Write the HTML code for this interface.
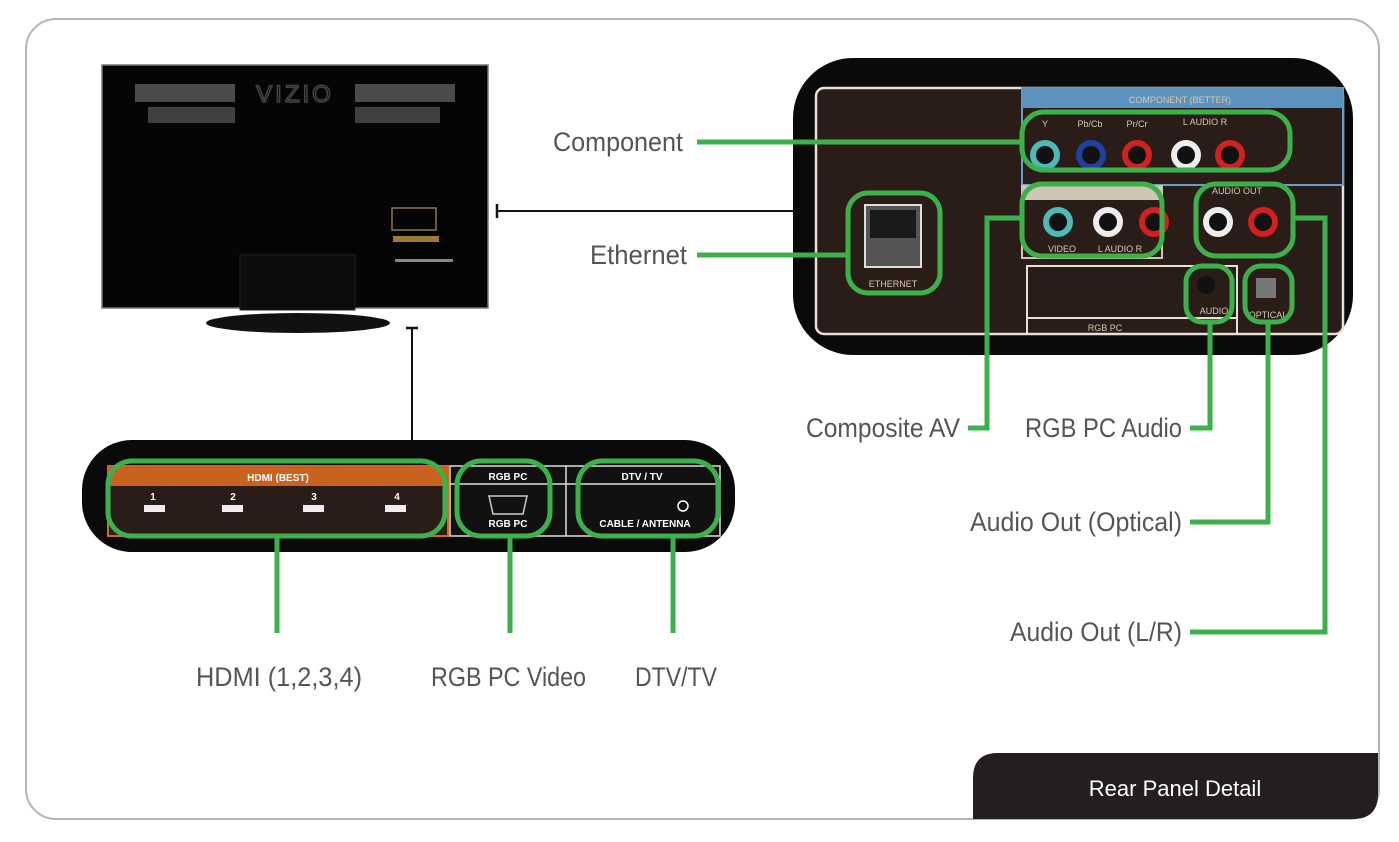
<!DOCTYPE html>
<html><head><meta charset="utf-8"><style>
html,body{margin:0;padding:0;background:#fff;}
svg{display:block}
.lbl{font-family:"Liberation Sans Narrow","Liberation Sans",sans-serif;font-size:27px;fill:#555;}
.sm{font-family:"Liberation Sans",sans-serif;font-weight:bold;fill:#fff;}
.tan{font-family:"Liberation Sans",sans-serif;fill:#d8c9b0;}
</style></head><body>
<svg width="1399" height="842" viewBox="0 0 1399 842" xmlns="http://www.w3.org/2000/svg">
<rect x="26" y="19" width="1353" height="800" rx="30" fill="#fff" stroke="#b5b5b5" stroke-width="2"/>

<!-- TV -->
<ellipse cx="298" cy="323" rx="92" ry="10" fill="#111"/>
<rect x="102" y="65" width="386" height="243" fill="#050505"/>
<rect x="102" y="65" width="386" height="243" fill="none" stroke="#777" stroke-width="1.5"/>
<rect x="135" y="84" width="100" height="18" fill="#4a4a4a"/>
<rect x="148" y="107" width="87" height="16" fill="#404040"/>
<rect x="355" y="84" width="100" height="18" fill="#4a4a4a"/>
<rect x="355" y="107" width="85" height="16" fill="#404040"/>
<text x="295" y="102" text-anchor="middle" font-family="Liberation Sans" font-size="24" fill="none" stroke="#444" stroke-width="1.5" letter-spacing="3">VIZIO</text>
<rect x="392" y="208" width="44" height="22" fill="none" stroke="#8a7a50" stroke-width="1.5"/>
<rect x="393" y="236" width="46" height="6" fill="#a07a30"/>
<rect x="395" y="259" width="58" height="3" fill="#888"/>
<rect x="240" y="255" width="115" height="55" fill="#0c0c0c" stroke="#222"/>

<!-- connectors black -->
<line x1="497" y1="211" x2="795" y2="211" stroke="#111" stroke-width="2"/>
<line x1="497" y1="204" x2="497" y2="218" stroke="#111" stroke-width="2.5"/>
<line x1="412" y1="328" x2="412" y2="442" stroke="#111" stroke-width="2"/>
<line x1="406" y1="328" x2="418" y2="328" stroke="#111" stroke-width="2.5"/>

<!-- Right panel -->
<rect x="793" y="58" width="560" height="297" rx="60" fill="#0a0a0a"/>
<rect x="816" y="88" width="527" height="246" rx="8" fill="#2a1c16" stroke="#e8e0d8" stroke-width="2.5"/>
<rect x="1022" y="88" width="321" height="97" fill="#2a1c16" stroke="#6a9ec8" stroke-width="2"/>
<rect x="1022" y="88" width="321" height="20" fill="#5b92bf"/>
<text x="1180" y="103" text-anchor="middle" class="tan" font-size="9" fill="#dfe8f0">COMPONENT (BETTER)</text>
<text x="1045" y="127" text-anchor="middle" class="tan" font-size="9">Y</text>
<text x="1090" y="127" text-anchor="middle" class="tan" font-size="9">Pb/Cb</text>
<text x="1137" y="127" text-anchor="middle" class="tan" font-size="9">Pr/Cr</text>
<text x="1205" y="125" text-anchor="middle" class="tan" font-size="9">L AUDIO  R</text>
<rect x="1022" y="186" width="140" height="72" fill="#2a1c16" stroke="#cfc5b5" stroke-width="2"/>
<rect x="1022" y="186" width="140" height="14" fill="#cfc5b5"/>
<text x="1062" y="252" class="tan" font-size="9" text-anchor="middle">VIDEO</text>
<text x="1120" y="252" class="tan" font-size="9" text-anchor="middle">L  AUDIO  R</text>
<text x="1237" y="194" class="tan" font-size="9" text-anchor="middle">AUDIO OUT</text>
<rect x="1027" y="266" width="210" height="68" fill="none" stroke="#e8e0d8" stroke-width="2"/>
<line x1="1027" y1="318" x2="1237" y2="318" stroke="#e8e0d8" stroke-width="2"/>
<text x="1105" y="331" class="tan" font-size="9" text-anchor="middle">RGB PC</text>
<text x="1214" y="314" class="tan" font-size="9" text-anchor="middle">AUDIO</text>
<text x="1268" y="318" class="tan" font-size="9" text-anchor="middle">OPTICAL</text>
<circle cx="1206" cy="285" r="9" fill="#111"/>
<rect x="1256" y="278" width="20" height="20" fill="#777"/>
<!-- ethernet -->
<rect x="865" y="205" width="56" height="62" fill="#555" stroke="#ddd" stroke-width="2"/>
<rect x="870" y="210" width="46" height="28" fill="#1a1a1a"/>
<text x="893" y="287" class="tan" font-size="9" text-anchor="middle">ETHERNET</text>
<!-- jacks -->
<g stroke-width="6">
<circle cx="1045" cy="155" r="12" fill="#111" stroke="#4fb8b8"/>
<circle cx="1091" cy="155" r="12" fill="#111" stroke="#2040a0"/>
<circle cx="1137" cy="155" r="12" fill="#111" stroke="#d02020"/>
<circle cx="1186" cy="155" r="12" fill="#111" stroke="#eee"/>
<circle cx="1230" cy="155" r="12" fill="#111" stroke="#d02020"/>
<circle cx="1058" cy="222" r="12" fill="#111" stroke="#4fb8b8"/>
<circle cx="1108" cy="222" r="12" fill="#111" stroke="#eee"/>
<circle cx="1154" cy="222" r="12" fill="#111" stroke="#d02020"/>
<circle cx="1218" cy="222" r="12" fill="#111" stroke="#eee"/>
<circle cx="1263" cy="222" r="12" fill="#111" stroke="#d02020"/>
</g>

<!-- Bottom panel -->
<rect x="82" y="440" width="653" height="112" rx="50" fill="#0a0a0a"/>
<rect x="108" y="466" width="340" height="70" fill="#2a1c16" stroke="#d06a20" stroke-width="2"/>
<rect x="108" y="466" width="340" height="20" fill="#c8621e"/>
<text x="278" y="481" class="sm" font-size="10" text-anchor="middle">HDMI (BEST)</text>
<rect x="450" y="466" width="270" height="70" fill="#111" stroke="#ddd" stroke-width="1.5"/>
<line x1="566" y1="466" x2="566" y2="536" stroke="#ddd" stroke-width="1.5"/>
<line x1="450" y1="484" x2="720" y2="484" stroke="#ddd" stroke-width="1.5"/>
<text x="508" y="480" class="sm" font-size="10" text-anchor="middle">RGB PC</text>
<text x="508" y="527" class="sm" font-size="10" text-anchor="middle">RGB PC</text>
<text x="642" y="480" class="sm" font-size="10" text-anchor="middle">DTV / TV</text>
<text x="645" y="527" class="sm" font-size="10" text-anchor="middle">CABLE / ANTENNA</text>
<circle cx="683" cy="506" r="5" fill="none" stroke="#fff" stroke-width="1.5"/>
<path d="M489 496 h38 l-4 18 h-30 z" fill="none" stroke="#ccc" stroke-width="1.5"/>
<g font-family="Liberation Sans" font-weight="bold" font-size="10" fill="#fff" text-anchor="middle">
<text x="153" y="500">1</text><text x="233" y="500">2</text><text x="314" y="500">3</text><text x="397" y="500">4</text></g>
<g fill="#eee"><rect x="144" y="505" width="21" height="7"/><rect x="222" y="505" width="21" height="7"/><rect x="303" y="505" width="21" height="7"/><rect x="385" y="505" width="21" height="7"/></g>

<!-- green boxes -->
<g fill="none" stroke="#3cb04a" stroke-width="5">
<rect x="1022" y="112" width="268" height="58" rx="22"/>
<rect x="848" y="193" width="92" height="100" rx="20"/>
<rect x="1022" y="184" width="140" height="72" rx="20"/>
<rect x="1196" y="184" width="97" height="72" rx="20"/>
<rect x="1186" y="266" width="46" height="56" rx="16"/>
<rect x="1245" y="266" width="47" height="56" rx="16"/>
<rect x="108" y="461" width="337" height="75" rx="24"/>
<rect x="457" y="461" width="93" height="75" rx="24"/>
<rect x="578" y="461" width="140" height="75" rx="24"/>
<polyline points="697,142 1022,142"/>
<polyline points="697,255 848,255"/>
<polyline points="968,428 987,428 987,218 1022,218"/>
<polyline points="1190,428 1210,428 1210,322"/>
<polyline points="1190,522 1268,522 1268,322"/>
<polyline points="1190,632 1325,632 1325,218 1293,218"/>
<line x1="277" y1="536" x2="277" y2="633"/>
<line x1="510" y1="536" x2="510" y2="633"/>
<line x1="673" y1="536" x2="673" y2="633"/>
</g>

<!-- labels -->
<text class="lbl" x="553" y="151" textLength="130" lengthAdjust="spacingAndGlyphs">Component</text>
<text class="lbl" x="590" y="264" textLength="97" lengthAdjust="spacingAndGlyphs">Ethernet</text>
<text class="lbl" x="806" y="437" textLength="154" lengthAdjust="spacingAndGlyphs">Composite AV</text>
<text class="lbl" x="1025" y="437" textLength="157" lengthAdjust="spacingAndGlyphs">RGB PC Audio</text>
<text class="lbl" x="970" y="531" textLength="212" lengthAdjust="spacingAndGlyphs">Audio Out (Optical)</text>
<text class="lbl" x="1010" y="641" textLength="172" lengthAdjust="spacingAndGlyphs">Audio Out (L/R)</text>
<text class="lbl" x="196" y="686" textLength="166" lengthAdjust="spacingAndGlyphs">HDMI (1,2,3,4)</text>
<text class="lbl" x="431" y="686" textLength="155" lengthAdjust="spacingAndGlyphs">RGB PC Video</text>
<text class="lbl" x="635" y="686" textLength="82" lengthAdjust="spacingAndGlyphs">DTV/TV</text>

<!-- tab -->
<path d="M973 819 V778 Q973 753 998 753 H1378 V794 Q1378 819 1353 819 Z" fill="#231f20"/>
<text x="1175" y="796" text-anchor="middle" font-family="Liberation Sans" font-size="22" fill="#fff">Rear Panel Detail</text>
</svg>
</body></html>
